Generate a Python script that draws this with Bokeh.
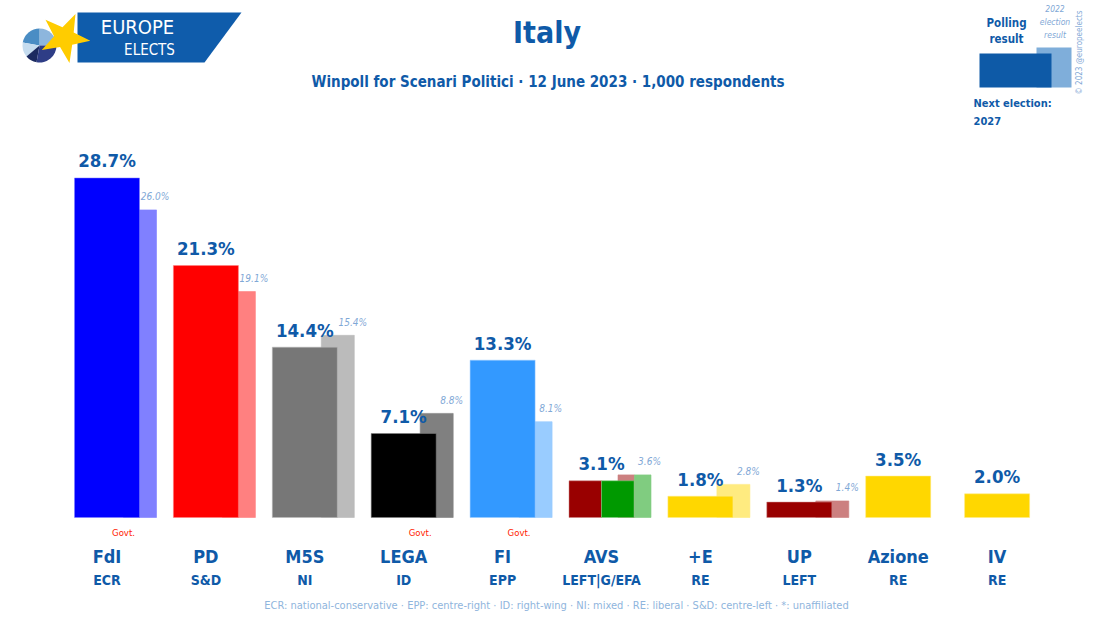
import numpy as np
from bokeh.plotting import figure
from bokeh.models import Range1d
from bokeh.embed import file_html
from bokeh.resources import INLINE
from bokeh.core.properties import value

# ---------------- data ----------------
parties = ["FdI", "PD", "M5S", "LEGA", "FI", "AVS", "+E", "UP", "Azione", "IV"]
groups = ["ECR", "S&D", "NI", "ID", "EPP", "LEFT|G/EFA", "RE", "LEFT", "RE", "RE"]
polling = [28.7, 21.3, 14.4, 7.1, 13.3, 3.1, 1.8, 1.3, 3.5, 2.0]
election = [26.0, 19.1, 15.4, 8.8, 8.1, 3.6, 2.8, 1.4, None, None]
colors = [["#0000FF"], ["#FF0000"], ["#777777"], ["#000000"], ["#3399FF"],
          ["#990000", "#009900"], ["#FFD700"], ["#990000"], ["#FFD700"], ["#FFD700"]]
govt = [True, False, False, True, True, False, False, False, False, False]

title = "Italy"
subtitle = "Winpoll for Scenari Politici · 12 June 2023 · 1,000 respondents"
footer = ("ECR: national-conservative · EPP: centre-right · ID: right-wing · NI: mixed · "
          "RE: liberal · S&D: centre-left · *: unaffiliated")

# ---------------- layout ----------------
FONT = "DejaVu Sans Condensed"
DARK = "#0F5AA8"
LIGHTBLUE = "#7FA8D6"
W, H = 1093, 618
X0, DX = 106.5, 98.9      # px of first group centre, px per group
Y0, DY = 517.0, 11.83     # px of baseline, px per percentage point


def X(px):
    return (px - X0) / DX


def Y(py):
    return (Y0 - py) / DY


def light(c):
    c = c.lstrip("#")
    r, g, b = (int(c[i:i + 2], 16) for i in (0, 2, 4))
    return "#%02X%02X%02X" % tuple(int(round((v + 255) / 2)) for v in (r, g, b))


p = figure(width=W, height=H, x_range=Range1d(X(0), X(W)),
           y_range=Range1d(Y(H), Y(0)), output_backend="svg",
           toolbar_location=None, min_border=0,
           x_axis_location=None, y_axis_location=None)
p.grid.visible = False
p.outline_line_color = None
p.background_fill_color = "white"
p.border_fill_color = "white"

POLL_W = 65 / DX
EL_W = 33 / DX
EL_OFF = 33 / DX

# ---------------- bars ----------------
ex, ew, et, ec = [], [], [], []
px_, pw, pt, pc = [], [], [], []
for i, cols in enumerate(colors):
    n = len(cols)
    for k, c in enumerate(cols):
        if election[i] is not None:
            cx = i + EL_OFF
            ex.append(cx - EL_W / 2 + (k + 0.5) * EL_W / n)
            ew.append(EL_W / n)
            et.append(election[i])
            ec.append(light(c))
        px_.append(i - POLL_W / 2 + (k + 0.5) * POLL_W / n)
        pw.append(POLL_W / n)
        pt.append(polling[i])
        pc.append(c)

p.vbar(x=ex, width=ew, top=et, bottom=0, fill_color=ec, line_color=ec, line_alpha=0.6)
p.vbar(x=px_, width=pw, top=pt, bottom=0, fill_color=pc,
       line_color=[light(c) for c in pc], line_alpha=0.5)

idx = np.arange(len(parties))

# polling labels
p.text(x=idx, y=[v + 17 / DY for v in polling], text=[f"{v:.1f}%" for v in polling],
       text_font=value(FONT), text_font_size="18.5px", text_font_style="bold",
       text_color=DARK, text_align="center", text_baseline="middle")

# election labels
el_i = [i for i in idx if election[i] is not None]
p.text(x=[i + EL_OFF + 15 / DX for i in el_i], y=[election[i] + 13 / DY for i in el_i],
       text=[f"{election[i]:.1f}%" for i in el_i],
       text_font=value(FONT), text_font_size="10px", text_font_style="italic",
       text_color=LIGHTBLUE, text_align="center", text_baseline="middle")

# party names / groups
p.text(x=idx, y=[Y(555.5)] * len(idx), text=parties, text_font=value(FONT),
       text_font_size="18px", text_font_style="bold", text_color=DARK,
       text_align="center", text_baseline="middle")
p.text(x=idx, y=[Y(579)] * len(idx), text=groups, text_font=value(FONT),
       text_font_size="14px", text_font_style="bold", text_color=DARK,
       text_align="center", text_baseline="middle")

gi = [i for i in idx if govt[i]]
p.text(x=[i + 16.5 / DX for i in gi], y=[Y(532)] * len(gi), text=["Govt."] * len(gi),
       text_font=value(FONT), text_font_size="9.5px", text_color="#FF2200",
       text_align="center", text_baseline="middle")

# footer
p.text(x=[X(556)], y=[Y(605)], text=[footer], text_font=value(FONT),
       text_font_size="11px", text_color="#8FB5DD", text_align="center",
       text_baseline="middle")

# titles
p.text(x=[X(546.5)], y=[Y(32)], text=[title], text_font=value(FONT),
       text_font_size="30px", text_font_style="bold", text_color=DARK,
       text_align="center", text_baseline="middle")
p.text(x=[X(547.5)], y=[Y(81)], text=[subtitle], text_font=value(FONT),
       text_font_size="15px", text_font_style="bold", text_color=DARK,
       text_align="center", text_baseline="middle")

# ---------------- legend box (top right) ----------------
p.quad(left=[X(1036)], right=[X(1071)], top=[Y(47)], bottom=[Y(87)],
       fill_color="#7FAEDA", line_color=None)
p.quad(left=[X(979)], right=[X(1051)], top=[Y(53)], bottom=[Y(87)],
       fill_color="#0E5AA7", line_color=None)
p.text(x=[X(1006)] * 2, y=[Y(22), Y(38)], text=["Polling", "result"],
       text_font=value(FONT), text_font_size="11.5px", text_font_style="bold",
       text_color=DARK, text_align="center", text_baseline="middle")
p.text(x=[X(1054.5)] * 3, y=[Y(8), Y(21.5), Y(34)], text=["2022", "election", "result"],
       text_font=value(FONT), text_font_size="8.5px", text_font_style="italic",
       text_color=LIGHTBLUE, text_align="center", text_baseline="middle")
p.text(x=[X(973)] * 2, y=[Y(103), Y(120)], text=["Next election:", "2027"],
       text_font=value(FONT), text_font_size="11px", text_font_style="bold",
       text_color=DARK, text_align="left", text_baseline="middle")
p.text(x=[X(1079)], y=[Y(52)], text=["© 2023 @europeelects"], angle=np.pi / 2,
       text_font=value(FONT), text_font_size="8px", text_color=LIGHTBLUE,
       text_align="center", text_baseline="middle")

# ---------------- logo ----------------
p.patch(x=[X(77), X(241), X(204), X(77)], y=[Y(12), Y(12), Y(62), Y(62)],
        fill_color="#0F5CAB", line_color=None)
pie_cols = ["#8DB6DD", "#4A8DC4", "#C5DCEF", "#1B2A60", "#2E3D86"]
pie_ang = [0, 90, 170, 220, 260, 360]
for k, c in enumerate(pie_cols):
    p.wedge(x=[X(39)], y=[Y(45)], radius=17, radius_units="screen",
            start_angle=np.deg2rad(pie_ang[k]), end_angle=np.deg2rad(pie_ang[k + 1]),
            fill_color=c, line_color=None)
cx, cy, R, r = 64, 37, 26, 10.5
sx, sy = [], []
for k in range(10):
    a = np.deg2rad(-90 + 25 + k * 36)
    rr = R if k % 2 == 0 else r
    sx.append(X(cx + rr * np.cos(a)))
    sy.append(Y(cy + rr * np.sin(a)))
p.patch(x=sx, y=sy, fill_color="#FFCC00", line_color=None)
p.text(x=[X(137)], y=[Y(26.5)], text=["EUROPE"], text_font=value(FONT),
       text_font_size="20px", text_color="white", text_align="center",
       text_baseline="middle")
p.text(x=[X(149)], y=[Y(49)], text=["ELECTS"], text_font=value(FONT),
       text_font_size="15px", text_color="white", text_align="center",
       text_baseline="middle")

open("out.html", "w").write(file_html(p, INLINE))
